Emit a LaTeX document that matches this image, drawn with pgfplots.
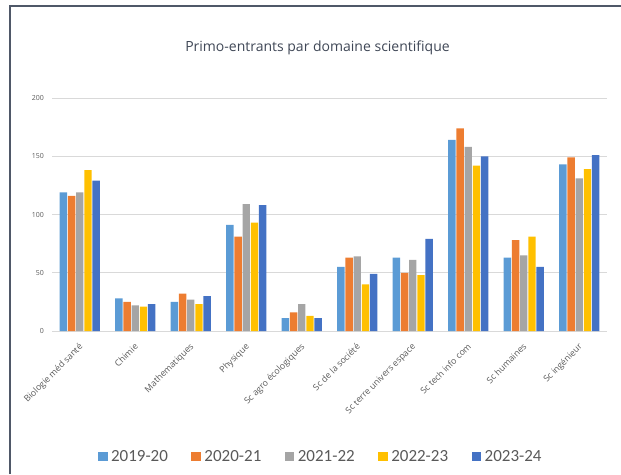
\documentclass[border=0pt]{standalone}
\usepackage{pgfplots}
\pgfplotsset{compat=1.18}
\usepackage{fontspec}
\setmainfont{Open Sans}
\newfontfamily\osans{Open Sans}
\newfontfamily\carl{Carlito}
\definecolor{cA}{HTML}{5B9BD5}
\definecolor{cB}{HTML}{ED7D31}
\definecolor{cC}{HTML}{A5A5A5}
\definecolor{cD}{HTML}{FFC000}
\definecolor{cE}{HTML}{4472C4}
\definecolor{gridc}{HTML}{D9D9D9}
\definecolor{txt}{HTML}{595959}
\definecolor{frame}{HTML}{4F5868}
\definecolor{titlec}{HTML}{3F4756}
\begin{document}
\begin{tikzpicture}
\path[use as bounding box] (0,0) rectangle (621pt,474pt);
\draw[frame, line width=1.3pt] (10pt,0pt) -- (10pt,468pt) -- (621pt,468pt);
\node[font=\osans\fontsize{14}{16}\selectfont, text=titlec, anchor=base] at (317.5pt,422.3pt) {Primo-entrants par domaine scientifique};
\begin{axis}[
  scale only axis,
  width=555pt, height=233pt,
  at={(52pt,143pt)}, anchor=south west,
  ybar=0.8pt, bar width=7.4pt,
  xmin=-0.5, xmax=9.5, ymin=0, ymax=200,
  ytick={0,50,100,150,200},
  xtick={0,...,9},
  xticklabels={Biologie méd santé,Chimie,Mathematiques,Physique,Sc agro écologiques,Sc de la société,Sc terre univers espace,Sc tech info com,Sc humaines,Sc ingénieur},
  axis line style={draw=none},
  major tick length=0pt,
  ymajorgrids, grid style={gridc, line width=0.8pt},
  /pgf/number format/assume math mode=true,
  yticklabel style={font=\osans\fontsize{7}{8}\selectfont, text=txt, inner sep=0pt, xshift=-8pt},
  xticklabel style={font=\osans\fontsize{8.8}{10}\selectfont, text=txt, rotate=45, anchor=north east, inner sep=0pt, yshift=-7pt, xshift=-9pt},
  legend columns=5,
  legend style={draw=none, fill=none, at={(0.483,-0.5386)}, anchor=center,
    font=\carl\fontsize{17}{19}\selectfont, text=txt,
    /tikz/every even column/.append style={column sep=23pt},
    nodes={inner sep=0.5pt}},
  legend image code/.code={\fill[#1] (0pt,-4.7pt) rectangle (9.5pt,4.7pt); \path (12.5pt,0pt);},
]
\addplot[fill=cA, draw=none] coordinates {(0,119) (1,28) (2,25) (3,91) (4,11) (5,55) (6,63) (7,164) (8,63) (9,143)};
\addplot[fill=cB, draw=none] coordinates {(0,116) (1,25) (2,32) (3,81) (4,16) (5,63) (6,50) (7,174) (8,78) (9,149)};
\addplot[fill=cC, draw=none] coordinates {(0,119) (1,22) (2,27) (3,109) (4,23) (5,64) (6,61) (7,158) (8,65) (9,131)};
\addplot[fill=cD, draw=none] coordinates {(0,138) (1,21) (2,23) (3,93) (4,13) (5,40) (6,48) (7,142) (8,81) (9,139)};
\addplot[fill=cE, draw=none] coordinates {(0,129) (1,23) (2,30) (3,108) (4,11) (5,49) (6,79) (7,150) (8,55) (9,151)};
\legend{2019-20,2020-21,2021-22,2022-23,2023-24}
\end{axis}
\end{tikzpicture}
\end{document}
